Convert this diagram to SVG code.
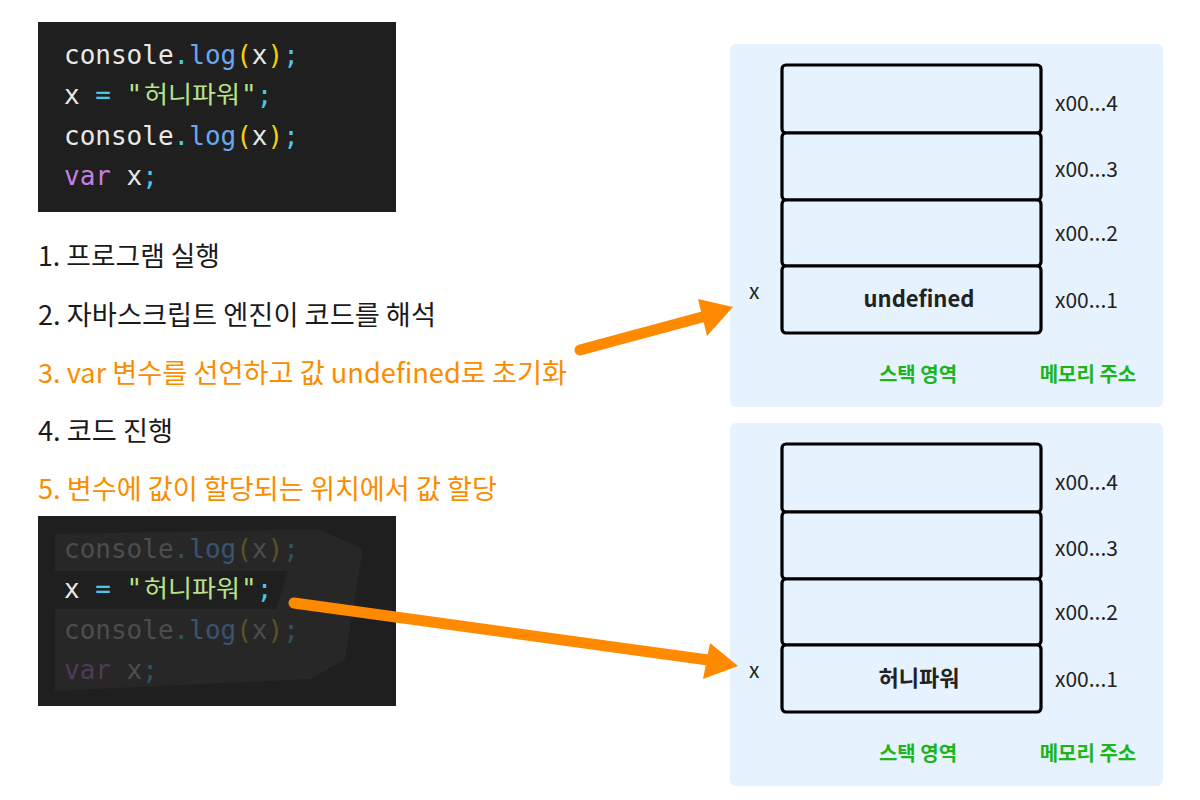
<svg xmlns="http://www.w3.org/2000/svg" width="1200" height="800" viewBox="0 0 1200 800">
<style>
.code{font-family:"DejaVu Sans Mono","Liberation Mono",monospace;font-size:26px}
.ko{font-family:"Noto Sans CJK KR",sans-serif}
.step{font-family:"Noto Sans CJK KR",sans-serif;font-size:27px;font-weight:400}
.dark{fill:#1a1a1a}
.org{fill:#fb8c00}
.panel{fill:#e6f2fe}
.cell{fill:#e6f2fe;stroke:#000;stroke-width:3.2}
.addr{font-family:"Noto Sans CJK KR",sans-serif;font-size:21px;fill:#222}
.val{font-family:"Noto Sans CJK KR",sans-serif;font-size:22px;font-weight:700;fill:#222;text-anchor:middle}
.grn{font-family:"Noto Sans CJK KR",sans-serif;font-size:20px;font-weight:700;fill:#1cb51c;text-anchor:middle}
.arrow{stroke:#ff8a00;stroke-width:11;stroke-linecap:round;fill:none}
.head{fill:#ff8a00}
.w{fill:#e8e8e8}.dot{fill:#4cc6e6}.fn{fill:#6aa7f0}.par{fill:#f2cf10}.str{fill:#b8e38a}.kw{fill:#c77ee0}
.dw{fill:#4d4d4d}.ddot{fill:#2d5560}.dfn{fill:#3a5470}.dpar{fill:#5a5222}.dkw{fill:#4e3b58}
</style>
<rect width="1200" height="800" fill="#fff"/>

<g id="code1">
<rect x="38" y="22" width="358" height="190" fill="#1f1f1f"/>
<text class="code" x="64" y="64"><tspan class="w">console</tspan><tspan class="dot">.</tspan><tspan class="fn">log</tspan><tspan class="par">(</tspan><tspan class="w">x</tspan><tspan class="par">)</tspan><tspan class="dot">;</tspan></text>
<text class="code" x="64" y="104"><tspan class="w">x </tspan><tspan class="dot">=</tspan><tspan class="str"> "</tspan></text>
<text class="ko str" x="144" y="103" font-size="24" textLength="96" lengthAdjust="spacingAndGlyphs">허니파워</text>
<text class="code" x="241" y="104"><tspan class="str">"</tspan><tspan class="dot">;</tspan></text>
<text class="code" x="64" y="145"><tspan class="w">console</tspan><tspan class="dot">.</tspan><tspan class="fn">log</tspan><tspan class="par">(</tspan><tspan class="w">x</tspan><tspan class="par">)</tspan><tspan class="dot">;</tspan></text>
<text class="code" x="64" y="185"><tspan class="kw">var</tspan><tspan class="w"> x</tspan><tspan class="dot">;</tspan></text>
</g>

<g id="code2">
<rect x="38" y="516" width="358" height="190" fill="#1f1f1f"/>
<polygon points="55,534 318,529 363,549 345,659 311,679 55,691" fill="#272727"/>
<polygon points="51,571 288,571 276,609 51,609" fill="#1f1f1f"/>
<text class="code" x="64" y="558"><tspan class="dw">console</tspan><tspan class="ddot">.</tspan><tspan class="dfn">log</tspan><tspan class="dpar">(</tspan><tspan class="dw">x</tspan><tspan class="dpar">)</tspan><tspan class="ddot">;</tspan></text>
<text class="code" x="64" y="598"><tspan class="w">x </tspan><tspan class="dot">=</tspan><tspan class="str"> "</tspan></text>
<text class="ko str" x="144" y="597" font-size="24" textLength="96" lengthAdjust="spacingAndGlyphs">허니파워</text>
<text class="code" x="241" y="598"><tspan class="str">"</tspan><tspan class="dot">;</tspan></text>
<text class="code" x="64" y="639"><tspan class="dw">console</tspan><tspan class="ddot">.</tspan><tspan class="dfn">log</tspan><tspan class="dpar">(</tspan><tspan class="dw">x</tspan><tspan class="dpar">)</tspan><tspan class="ddot">;</tspan></text>
<text class="code" x="64" y="679"><tspan class="dkw">var</tspan><tspan class="dw"> x</tspan><tspan class="ddot">;</tspan></text>
</g>

<g id="steps">
<text class="step dark" x="38" y="266" textLength="182" lengthAdjust="spacingAndGlyphs">1. 프로그램 실행</text>
<text class="step dark" x="38" y="325" textLength="398" lengthAdjust="spacingAndGlyphs">2. 자바스크립트 엔진이 코드를 해석</text>
<text class="step org" x="38" y="383" textLength="529" lengthAdjust="spacingAndGlyphs">3. var 변수를 선언하고 값 undefined로 초기화</text>
<text class="step dark" x="38" y="441" textLength="135" lengthAdjust="spacingAndGlyphs">4. 코드 진행</text>
<text class="step org" x="38" y="499" textLength="459" lengthAdjust="spacingAndGlyphs">5. 변수에 값이 할당되는 위치에서 값 할당</text>
</g>

<g id="stack1">
<rect class="panel" x="730" y="44" width="433" height="363" rx="6"/>
<rect class="cell" x="782" y="65" width="259" height="68" rx="4"/>
<rect class="cell" x="782" y="133" width="259" height="67" rx="4"/>
<rect class="cell" x="782" y="200" width="259" height="66" rx="4"/>
<rect class="cell" x="782" y="266" width="259" height="67" rx="4"/>
<text class="addr" x="1055" y="111">x00...4</text>
<text class="addr" x="1055" y="177">x00...3</text>
<text class="addr" x="1055" y="241">x00...2</text>
<text class="addr" x="1055" y="308">x00...1</text>
<text class="addr" x="749" y="299">x</text>
<text class="val" x="919" y="307">undefined</text>
<text class="grn" x="918" y="382">스택 영역</text>
<text class="grn" x="1088" y="382">메모리 주소</text>
</g>

<g id="stack2">
<rect class="panel" x="730" y="423" width="433" height="363" rx="6"/>
<rect class="cell" x="782" y="444" width="259" height="68" rx="4"/>
<rect class="cell" x="782" y="512" width="259" height="67" rx="4"/>
<rect class="cell" x="782" y="579" width="259" height="66" rx="4"/>
<rect class="cell" x="782" y="645" width="259" height="67" rx="4"/>
<text class="addr" x="1055" y="490">x00...4</text>
<text class="addr" x="1055" y="556">x00...3</text>
<text class="addr" x="1055" y="620">x00...2</text>
<text class="addr" x="1055" y="687">x00...1</text>
<text class="addr" x="749" y="678">x</text>
<text class="val" x="919" y="686">허니파워</text>
<text class="grn" x="918" y="761">스택 영역</text>
<text class="grn" x="1088" y="761">메모리 주소</text>
</g>

<g id="connectors">
<path class="arrow" d="M580,350 L706,316"/>
<polygon class="head" points="733,307 698,299 707,336"/>
<path class="arrow" d="M294,603 L708,660"/>
<polygon class="head" points="738,666 710,643 703,679"/>
</g>
</svg>
